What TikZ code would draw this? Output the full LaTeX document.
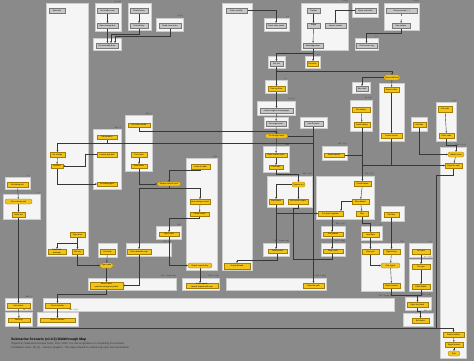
\documentclass[tikz,border=0pt]{standalone}
\usepackage{fontspec}
\setmainfont{Liberation Sans}
\usetikzlibrary{arrows.meta}
\definecolor{bgc}{RGB}{138,138,138}
\definecolor{pnl}{RGB}{245,245,245}
\definecolor{pnlb}{RGB}{205,205,205}
\definecolor{yel}{RGB}{242,196,24}
\definecolor{yelb}{RGB}{165,125,0}
\definecolor{gry}{RGB}{198,198,198}
\definecolor{gryb}{RGB}{120,120,120}
\definecolor{lnc}{RGB}{55,55,55}
\pgfdeclarelayer{bg}\pgfdeclarelayer{mid}
\pgfsetlayers{bg,mid,main}
\tikzset{
 panel/.style={draw=pnlb,fill=pnl,line width=0.4pt,inner sep=0pt},
 ynode/.style={draw=yelb,fill=yel,line width=0.3pt,inner sep=0pt,align=center,font=\fontsize{2}{2.3}\selectfont},
 yell/.style={ynode,rounded corners=2.2pt},
 gnode/.style={draw=gryb,fill=gry,line width=0.3pt,inner sep=0pt,align=center,font=\fontsize{2}{2.3}\selectfont},
 conn/.style={draw=lnc,line width=0.4pt},
 conna/.style={conn,-{Stealth[length=1.6pt,width=1.5pt]}},
 lbl/.style={anchor=south east,inner sep=0.3pt,text=black!80,font=\fontsize{1.8}{2}\selectfont}
}
\newcommand\mkP[5]{\begin{pgfonlayer}{bg}\node[panel,minimum width={(#4-#2)*1pt},minimum height={(#5-#3)*1pt}] (#1) at ({(#2+#4)/2},{(#3+#5)/2}) {};\end{pgfonlayer}}
\newcommand\mkY[6]{\node[ynode,minimum width={(#4-#2)*1pt},minimum height={(#5-#3)*1pt}] (#1) at ({(#2+#4)/2},{(#3+#5)/2}) {#6};}
\newcommand\mkE[6]{\node[yell,minimum width={(#4-#2)*1pt},minimum height={(#5-#3)*1pt}] (#1) at ({(#2+#4)/2},{(#3+#5)/2}) {#6};}
\newcommand\mkG[6]{\node[gnode,minimum width={(#4-#2)*1pt},minimum height={(#5-#3)*1pt}] (#1) at ({(#2+#4)/2},{(#3+#5)/2}) {#6};}
\newcommand\mkL[3]{\node[lbl] at (#1.north east) {#3};}
\begin{document}
\begin{tikzpicture}[x=1pt,y=-1pt]
\begin{pgfonlayer}{bg}
\fill[bgc] (0,0) rectangle (474,361);
\end{pgfonlayer}
\useasboundingbox (0,0) rectangle (474,361);
% panels
\mkP{pA}{46}{3}{88}{256}
\mkP{pB}{222}{3}{252}{270}
\mkP{p2}{95}{3}{121}{31}
\mkP{p3}{128}{3}{151}{30}
\mkP{p4}{93}{38}{121}{50}
\mkP{p5}{156}{18}{183}{31}
\mkP{p7}{264}{18}{289}{31}
\mkP{p8}{301}{3}{348}{50}
\mkP{p9}{352}{3}{378}{17}
\mkP{p10}{384}{3}{419}{30}
\mkP{p11}{355}{38}{378}{50}
\mkP{p12}{268}{56}{285}{68}
\mkP{p13}{305}{56}{320}{68}
\mkP{p14}{265}{80}{287}{93}
\mkP{p15}{352}{82}{370}{93}
\mkP{p16}{379}{83}{404}{141}
\mkP{p17}{350}{100}{372}{131}
\mkP{p18}{436}{102}{456}{141}
\mkP{p19}{411}{117}{427}{131}
\mkP{p20}{257}{101}{295}{115}
\mkP{p21}{264}{117}{288}{128}
\mkP{p22}{300}{117}{327}{128}
\mkP{p23}{440}{147}{466}{358}
\mkP{p24}{93}{129}{121}{189}
\mkP{p25}{125}{115}{152}{171}
\mkP{p26}{5}{177}{30}{189}
\mkP{p27}{3}{194}{40}{219}
\mkP{p28}{186}{158}{217}{270}
\mkP{p29}{156}{226}{181}{239}
\mkP{p30}{126}{243}{171}{256}
\mkP{p31}{263}{146}{289}{172}
\mkP{p32}{267}{176}{312}{207}
\mkP{p33}{322}{146}{347}{160}
\mkP{p34}{316}{176}{374}{219}
\mkP{p35}{381}{206}{404}{221}
\mkP{p36}{361}{226}{382}{240}
\mkP{p37}{321}{226}{345}{238}
\mkP{p38}{263}{243}{289}{256}
\mkP{p39}{321}{243}{345}{256}
\mkP{p40}{361}{243}{404}{291}
\mkP{p41}{409}{243}{432}{257}
\mkP{p42}{409}{259}{432}{291}
\mkP{p43}{405}{297}{431}{310}
\mkP{p44}{403}{313}{433}{326}
\mkP{p45}{88}{278}{176}{290}
\mkP{p46}{182}{278}{219}{290}
\mkP{p47}{226}{278}{326}{290}
\mkP{p48}{43}{298}{394}{311}
\mkP{p49}{5}{298}{32}{310}
\mkP{p50}{5}{312}{32}{326}
\mkP{p51}{37}{312}{78}{326}
\mkP{p52}{98}{243}{117}{257}
% gray nodes
\mkG{g1}{49}{8}{65}{13}{Start attic}
\mkG{g2}{97}{8}{118}{13}{Get inside room}
\mkG{g3}{97}{23}{118}{28}{Open storage box}
\mkG{g4}{130}{8}{148}{13}{Check locker}
\mkG{g5}{130}{23}{148}{28}{Find old key}
\mkG{g6}{96}{43}{118}{48}{Get assembly dose}
\mkG{g7}{159}{23}{181}{28}{Read crew notes}
\mkG{g8}{226}{8}{247}{13}{Enter corridor}
\mkG{g9}{266}{23}{286}{28}{Check valve panel}
\mkG{g10}{307}{8}{320}{13}{Theater}
\mkG{g11}{307}{23}{320}{28}{Stage}
\mkG{g12}{303}{43}{323}{48}{Backstage door}
\mkG{g13}{325}{23}{346}{28}{Inspect curtain}
\mkG{g14}{355}{8}{376}{13}{Open sea hatch}
\mkG{g15}{386}{8}{417}{13}{Use periscope [...]}
\mkG{g16}{392}{23}{410}{28}{See surface}
\mkG{g17}{356}{43}{377}{48}{Check sonar log}
\mkG{g18}{270}{61}{283}{66}{Get tool}
\mkG{g19}{356}{86}{368}{91}{Mess hall}
\mkG{g20}{260}{108}{293}{113}{Look at engine room gauges}
\mkG{g21}{266}{121}{286}{126}{Get engine part}
\mkG{g22}{304}{121}{323}{126}{Use lift panel}
% yellow nodes
\mkY{y1}{307}{61}{318}{66}{Get solar}
\mkY{y2}{268}{86}{285}{91}{Pick up driver}
\mkE{ye1}{384}{75}{400}{80}{Open bulkhead}
\mkY{y3}{384}{87}{399}{92}{Repair cable}
\mkY{y4}{381}{133}{402}{138}{Power control}
\mkY{y5}{352}{107}{370}{112}{Get battery}
\mkY{y6}{354}{122}{370}{127}{Insert battery}
\mkY{y7}{438}{106}{452}{112}{Get code}
\mkY{y8}{439}{133}{454}{138}{Enter code}
\mkY{y9}{413}{122}{426}{127}{Get fuse}
\mkE{ye2}{448}{152}{464}{157}{Hidden room}
\mkY{y10}{445}{163}{462}{168}{Open the safe}
\mkY{y11}{97}{135}{117}{139}{Find wrench}
\mkY{y12}{97}{152}{117}{157}{Loosen pipe bolt}
\mkY{y13}{97}{182}{117}{186}{Fix leaking pipe}
\mkY{y14}{128}{123}{150}{127}{Get valve handle}
\mkY{y15}{131}{152}{147}{157}{Turn valve}
\mkY{y16}{131}{164}{147}{168}{Drain water}
\mkY{y17}{50}{152}{65}{157}{Go outside}
\mkY{y18}{51}{164}{63}{168}{Go back}
\mkY{y19}{7}{182}{28}{187}{Get diving suit}
\mkE{ye3}{5}{199}{32}{204}{Put on diving suit}
\mkY{y20}{12}{212}{25}{217}{Swim out}
\mkY{y21}{70}{232}{85}{237}{Open door}
\mkE{ye4}{157}{182}{181}{186}{Escape control room}
\mkY{y22}{191}{164}{210}{169}{Listen to radio}
\mkY{y23}{190}{199}{210}{204}{Hear strange sound}
\mkY{y24}{190}{212}{209}{216}{Follow sound}
\mkE{ye5}{188}{263}{212}{268}{Reach torpedo bay}
\mkY{y25}{159}{232}{179}{236}{Open crate}
\mkY{y26}{127}{249}{151}{254}{Take detonator cap}
\mkE{ye6}{265}{134}{288}{138}{Go through hatch}
\mkY{y27}{265}{153}{287}{157}{Enter reactor room}
\mkY{y28}{269}{165}{283}{169}{Cool rods}
\mkE{ye7}{292}{182}{305}{187}{Reactor on}
\mkY{y29}{269}{199}{283}{204}{Start pump}
\mkY{y30}{288}{199}{308}{204}{Set reactor output}
\mkY{y31}{324}{153}{344}{157}{Read manual}
\mkY{y32}{354}{181}{371}{186}{Check ballast}
\mkY{y33}{352}{199}{369}{204}{Blow ballast}
\mkY{y34}{356}{211}{368}{216}{Rise}
\mkY{y35}{318}{211}{343}{216}{Set depth regulator}
\mkY{y36}{384}{212}{399}{217}{Get flare}
\mkY{y37}{362}{232}{379}{237}{Load flare}
\mkY{y38}{323}{232}{343}{236}{Trim planes}
\mkY{y39}{268}{249}{287}{253}{Turbine start}
\mkY{y40}{323}{249}{343}{253}{Steer north}
\mkY{y41}{362}{249}{379}{254}{Flare gun}
\mkY{y42}{383}{249}{400}{254}{Signal buoy}
\mkE{ye8}{381}{263}{400}{268}{Fire signal}
\mkY{y43}{383}{283}{400}{288}{Radio contact}
\mkY{y44}{412}{249}{430}{254}{Get rope}
\mkY{y45}{412}{264}{430}{269}{Tie rope}
\mkY{y46}{412}{284}{430}{289}{Climb ladder}
\mkY{y47}{407}{302}{428}{307}{Open top hatch}
\mkY{y48}{412}{318}{429}{323}{Exit hatch}
\mkY{y49}{443}{332}{464}{337}{Reach surface}
\mkY{y50}{445}{342}{463}{347}{Signal rescue}
\mkE{yd}{448}{351}{460}{356}{End}
\mkY{y51}{48}{249}{66}{254}{Enter side\\passage}
\mkY{y52}{72}{249}{83}{254}{Get key}
\mkY{y53}{100}{249}{115}{254}{Get lamp}
\mkE{ye9}{100}{263}{113}{268}{Open gate}
\mkY{y54}{90}{282}{123}{289}{Move crates\\open the emergency hatch}
\mkY{y55}{186}{283}{218}{288}{Arm torpedo\\launch torpedo with cap}
\mkY{y56}{303}{283}{324}{288}{Clear the path}
\mkY{y57}{45}{303}{70}{308}{Flood chamber}
\mkY{y58}{7}{303}{30}{308}{Exit airlock}
\mkY{y59}{8}{318}{30}{322}{Swim up}
\mkY{y60}{40}{318}{75}{322}{Swim to surface}
\mkY{y61}{224}{263}{250}{269}{Seal bulkhead}
% labels
\mkL{p2}{}{31 - 1st}
\mkL{p4}{}{31 - 1}
\mkL{p5}{}{x 1 (1)}
\mkL{p7}{}{x 1}
\mkL{p8}{}{x 1 (1)}
\mkL{p10}{}{x 1 (1)}
\mkL{p11}{}{x 1}
\mkL{p12}{}{x 1 (1)}
\mkL{p13}{}{x 1}
\mkL{p14}{}{x 1}
\mkL{p17}{}{x 1-1 (1)}
\mkL{p18}{}{x 1}
\mkL{p20}{}{x 1-1 (1)}
\mkL{p23}{}{R44 - x 1 (1)}
\mkL{p24}{}{R31 - 4}
\mkL{p25}{}{R31 - 1}
\mkL{p26}{}{x 1}
\mkL{p27}{}{x 1}
\mkL{p28}{}{R53}
\mkL{p29}{}{R35}
\mkL{p31}{}{R34}
\mkL{p32}{}{R41 - 1 (1)}
\mkL{p33}{}{R35 - 1 (1)}
\mkL{p34}{}{R40 - 1 (1)}
\mkL{p36}{}{x 1}
\mkL{p37}{}{R42 - 1 (1)}
\mkL{p38}{}{R37 - 1 page (1pt)}
\mkL{p39}{}{R38 - 1 (1pt)}
\mkL{p40}{}{R39}
\mkL{p41}{}{x 1}
\mkL{p42}{}{x 1 - 1 (1)}
\mkL{p43}{}{R36 - 1 (1)}
\mkL{p44}{}{R46 - 1 (1)}
\mkL{p45}{}{R37 - 1 page (1pt)}
\mkL{p46}{}{R53 - 1 (1pt)}
\mkL{p47}{}{R45 - 1 (1pt)}
\mkL{p48}{}{R32 - 1 page (1pt)}
\mkL{p49}{}{R33 - 1}
\mkL{p50}{}{R47 - 1 (1)}
\mkL{p51}{}{R48 - 1 (1)}
\mkL{p30}{}{R36 - 1st}
% title
\node[anchor=north west,inner sep=0pt,font=\bfseries\fontsize{3.4}{4}\selectfont] (title) at (11,337.5) {Submarine Scenario (v1.0.3) Walkthrough Map};
\node[anchor=north west,inner sep=0pt,align=left,text=black!80,font=\fontsize{2.6}{3.6}\selectfont] (sub) at (11,342.5) {Original by Submarine Escape Team, 2017--2022. For use as guidance in completing the scenario.\\Contributor notes: (R) (1) -- Generic graphics. The map is based on outline map style and screenshots.};
% connectors
\begin{pgfonlayer}{mid}
\draw[conna] (g2) -- (g3);
\draw[conna] (g4) -- (g5);
\draw[conna] (g3.south) -- (g3.south |- g6.north);
\draw[conna] (g5.south) |- (111,34) -- (g6.north -| 111,0);
\draw[conna] (g7.south) |- (115,36) -- (g6.north -| 115,0);
\draw[conna] (g8.east) -| (g9.north);
\draw[conna] (g10) -- (g11);
\draw[conna] (g11) -- (g12);
\draw[conna] (g14.west) -| (g13.north);
\draw[conna,dashed] (g15) -- (g16);
\draw[conna] (g16.south) |- (366.5,33) -- (g17.north);
\draw[conna] (g12.south) -- (g12.south |- y1.north);
\draw[conna] (g12.south) |- (276.5,53) -- (g18.north);
\draw[conna] (g18) -- (y2);
\draw[conna] (g18.south) |- (392,71) -- (ye1.north);
\draw[conna] (ye1) -- (y3);
\draw[conna] (ye1.west) -| (g19.north);
\draw[conna] (y3) -- (y4);
\draw[conna] (y2) -- (g20);
\draw[conna] (g20) -- (g21);
\draw[conna] (g21) -- (ye6);
\draw[conna] (y5) -- (y6);
\draw[conna] (y7) -- (y8);
\draw[conna] (ye2) -- (y10);
\draw[conna] (y6.south) |- (y10.west);
\draw[conn] (y4.south) -- (y4.south |- y10.west);
\draw[conna] (y9.south) |- (ye2.west);
\draw[conna] (y8.south) |- (456,145) -- (ye2.north);
\draw[conna] (y11.south) |- (57.5,143) -- (y17.north);
\draw[conn] (y11.south) |- (g22.south |- 0,143);
\draw[conna] (g22.south) -- (g22.south |- y56.north);
\draw[conn] (ye6.east) -- (ye6.east -| g22.south);
\draw[conna] (y12.west) -| (85,166) -- (y18.east);
\draw[conna] (y17) -- (y18);
\draw[conna] (y18.south) |- (y13.west);
\draw[conna] (y14.south) |- (276.5,131) -- (ye6.north);
\draw[conna] (y15) -- (y16);
\draw[conna] (y16.south) |- (ye4.west);
\draw[conna] (y22.south) |- (169,170.5) -- (ye4.north -| 169,0);
\draw[conna] (ye4.south) |- (200,188) -- (y23.north);
\draw[conna] (ye4.south) |- (139,188) -- (y26.north);
\draw[conna] (y23) -- (y24);
\draw[conna] (y24.south) |- (169,218) -- (y25.north -| 169,0);
\draw[conna] (y25.south) |- (ye5.west);
\draw[conna] (ye5.south) -- (ye5.south |- y55.north);
\draw[conna] (y39.south) |- (237,260) -- (y61.north -| 237,0);
\draw[conna] (y52.south) |- (ye9.west);
\draw[conna] (y53) -- (ye9);
\draw[conna] (ye9) -- (y54);
\draw[conna] (y54.south) |- (57.5,294) -- (y57.north);
\draw[conna] (y19) -- (ye3);
\draw[conna] (ye3) -- (y20);
\draw[conna] (y20) -- (y58);
\draw[conna] (y58) -- (y59);
\draw[conna] (y57) -- (y60);
\draw[conna] (y21) -- (y52);
\draw[conna] (y21.south) |- (57,243) -- (y51.north);
\draw[conna] (y44) -- (y45);
\draw[conna] (y45) -- (y46);
\draw[conna] (y46.south) |- (417.5,295) -- (y47.north);
\draw[conn] (y43.south) |- (417.5,295);
\draw[conna] (y47.south) |- (420.5,311.5) -- (y48.north);
\draw[conna] (y41.south) |- (ye8.west);
\draw[conna] (y42) -- (ye8);
\draw[conna] (ye8) -- (y43);
\draw[conna] (y37) -- (y41);
\draw[conna] (y36) -- (y42);
\draw[conna] (y32) -- (y33);
\draw[conna] (y33) -- (y34);
\draw[conna] (y33.west) -| (y35.north -| 341,0);
\draw[conna] (y31.east) -| (y32.north);
\draw[conna] (y34.south) |- (370.5,223) -- (y37.north);
\draw[conna] (y35.south -| 332,0) -- (y38.north -| 332,0);
\draw[conna] (y38.south -| 332,0) -- (y40.north -| 332,0);
\draw[conn] (y30.south) |- (293,208) -- (293,259) -| (y40.south -| 332,0);
\draw[conna] (ye6) -- (y27);
\draw[conna] (y27) -- (y28);
\draw[conna] (y28.south) |- (298.5,174) -- (ye7.north);
\draw[conna] (ye7.west) -| (y29.north);
\draw[conna] (ye7) -- (ye7 |- y30.north);
\draw[conna] (y29.south) |- (y35.west);
\draw[conna] (y29.south) -- (y29.south |- y39.north);
\draw[conna] (y49) -- (y50);
\draw[conna] (y50) -- (yd);
\draw[conna] (y59.south) |- (453.5,328) -- (y49.north);
\coordinate (j3) at (436,328);
\draw[conn] (y10.south) |- (436,175) -- (j3);
\draw[conna] (y26.south) |- (y54.east);
\end{pgfonlayer}
\end{tikzpicture}
\end{document}
